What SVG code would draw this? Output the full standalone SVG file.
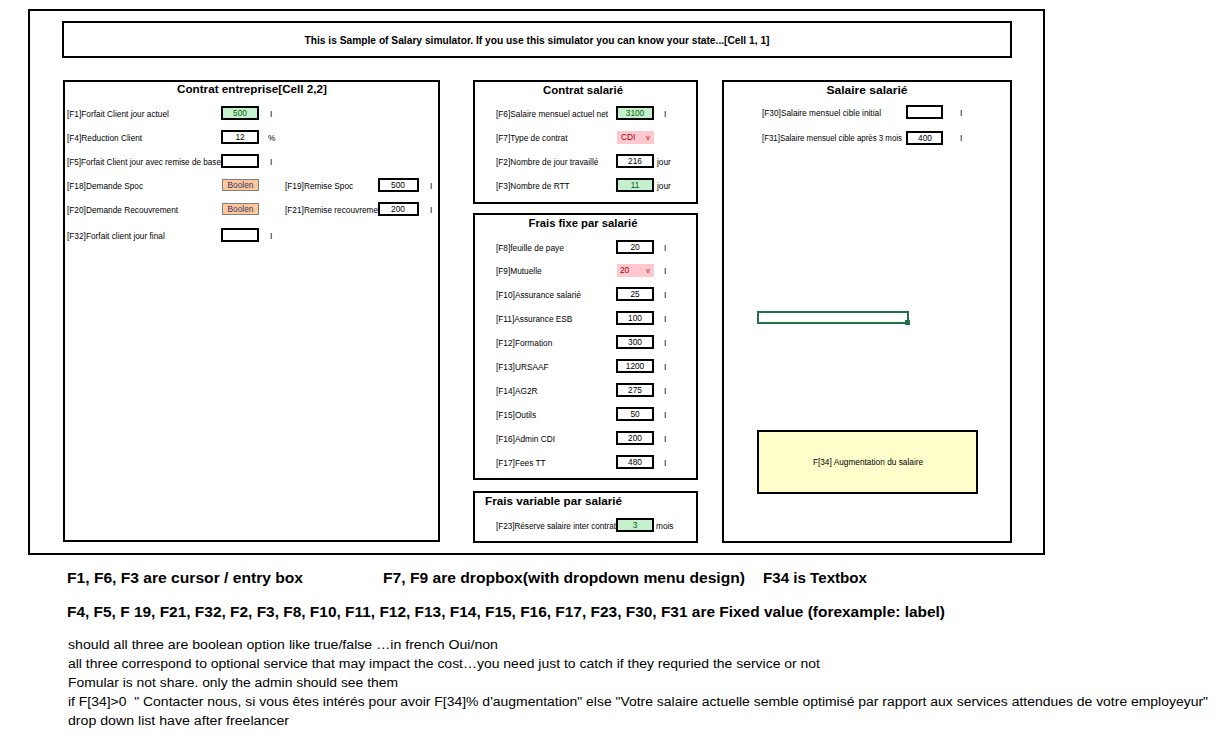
<svg xmlns="http://www.w3.org/2000/svg" width="1218" height="744" viewBox="0 0 1218 744">
<style>
  .frame{fill:#fff;stroke:#000;stroke-width:2}
  .ttl{font-family:"Liberation Sans",Arial,sans-serif;font-weight:bold;font-size:11px;fill:#000}
  .lbl{font-family:"Liberation Sans",Arial,sans-serif;font-size:8.3px;fill:#000}
  .val{font-family:"Liberation Sans",Arial,sans-serif;font-size:8.3px;fill:#000;text-anchor:middle}
  .gval{font-family:"Liberation Sans",Arial,sans-serif;font-size:8.3px;fill:#006100;text-anchor:middle}
  .box{fill:#fff;stroke:#000;stroke-width:2}
  .entry{fill:#c6efce;stroke:#000;stroke-width:2}
  .bool{fill:#fcc89b;stroke:#808080;stroke-width:1}
  .bval{font-family:"Liberation Sans",Arial,sans-serif;font-size:8.3px;fill:#333366;text-anchor:middle}
  .drop{fill:#ffc7ce}
  .dval{font-family:"Liberation Sans",Arial,sans-serif;font-size:8.3px;fill:#9c0006}
  .arr{font-family:"Liberation Sans",Arial,sans-serif;font-size:7px;font-weight:bold;fill:#c0504d}
  .bar{font-family:"Liberation Sans",Arial,sans-serif;font-size:8.3px;fill:#000}
  .note{font-family:"Liberation Sans",Arial,sans-serif;font-weight:bold;font-size:14px;fill:#000}
  .small{font-family:"Liberation Sans",Arial,sans-serif;font-size:12.5px;fill:#000}
</style>
<rect fill="#fff" x="0" y="0" width="1218" height="744"/>

<g id="outer-frame">
  <rect class="frame" x="29" y="10" width="1015" height="544"/>
</g>

<g id="title-bar">
  <rect class="frame" x="63" y="22" width="948" height="35"/>
  <text class="ttl" x="537" y="44" text-anchor="middle" font-size="10.5" textLength="465" lengthAdjust="spacingAndGlyphs">This is Sample of Salary simulator. If you use this simulator you can know your state...[Cell 1, 1]</text>
</g>

<g id="panel-contrat-entreprise">
  <rect class="frame" x="64" y="81" width="375" height="460"/>
  <text class="ttl" x="252" y="93" text-anchor="middle" textLength="150" lengthAdjust="spacingAndGlyphs">Contrat entreprise[Cell 2,2]</text>

  <text class="lbl" x="67" y="117">[F1]Forfait Client jour actuel</text>
  <rect class="entry" x="222" y="107" width="36" height="12"/>
  <text class="gval" x="240" y="116">500</text>
  <text class="bar" x="270" y="117">I</text>

  <text class="lbl" x="67" y="141">[F4]Reduction Client</text>
  <rect class="box" x="222" y="131" width="36" height="12"/>
  <text class="val" x="240" y="140">12</text>
  <text class="lbl" x="268" y="141">%</text>

  <text class="lbl" x="67" y="165" textLength="154" lengthAdjust="spacingAndGlyphs">[F5]Forfait Client jour avec remise de base</text>
  <rect class="box" x="222" y="155" width="36" height="12"/>
  <text class="bar" x="270" y="165">I</text>

  <text class="lbl" x="67" y="189">[F18]Demande Spoc</text>
  <rect class="bool" x="222.5" y="179.5" width="36" height="11"/>
  <text class="bval" x="240.5" y="188">Boolen</text>
  <text class="lbl" x="285" y="189">[F19]Remise Spoc</text>
  <rect class="box" x="379" y="179" width="39" height="12"/>
  <text class="val" x="398" y="188">500</text>
  <text class="bar" x="430" y="189">I</text>

  <text class="lbl" x="67" y="213">[F20]Demande Recouvrement</text>
  <rect class="bool" x="222.5" y="203.5" width="36" height="11"/>
  <text class="bval" x="240.5" y="212">Boolen</text>
  <text class="lbl" x="285" y="213">[F21]Remise recouvrement</text>
  <rect class="box" x="379" y="203" width="39" height="12"/>
  <text class="val" x="398" y="212">200</text>
  <text class="bar" x="430" y="213">I</text>

  <text class="lbl" x="67" y="239">[F32]Forfait client jour final</text>
  <rect class="box" x="222" y="229" width="36" height="12"/>
  <text class="bar" x="270" y="239">I</text>
</g>

<g id="panel-contrat-salarie">
  <rect class="frame" x="474" y="81" width="223" height="122"/>
  <text class="ttl" x="583" y="94" text-anchor="middle" textLength="80" lengthAdjust="spacingAndGlyphs">Contrat salarié</text>

  <text class="lbl" x="496" y="117">[F6]Salaire mensuel actuel net</text>
  <rect class="entry" x="617" y="107" width="36" height="12"/>
  <text class="gval" x="635" y="116">3100</text>
  <text class="bar" x="664" y="117">I</text>

  <text class="lbl" x="496" y="141">[F7]Type de contrat</text>
  <rect class="drop" x="617" y="131" width="37" height="13"/>
  <text class="dval" x="621" y="140">CDI</text>
  <text class="arr" x="646" y="140">v</text>

  <text class="lbl" x="496" y="165">[F2]Nombre de jour travaillé</text>
  <rect class="box" x="617" y="155" width="36" height="12"/>
  <text class="val" x="635" y="164">216</text>
  <text class="lbl" x="657" y="165">jour</text>

  <text class="lbl" x="496" y="189">[F3]Nombre de RTT</text>
  <rect class="entry" x="617" y="179" width="36" height="12"/>
  <text class="gval" x="635" y="188">11</text>
  <text class="lbl" x="657" y="189">jour</text>
</g>

<g id="panel-frais-fixe">
  <rect class="frame" x="474" y="214" width="223" height="265"/>
  <text class="ttl" x="583" y="227" text-anchor="middle" textLength="109" lengthAdjust="spacingAndGlyphs">Frais fixe par salarié</text>

  <text class="lbl" x="496" y="251">[F8]feuille de paye</text>
  <rect class="box" x="617" y="241" width="36" height="12"/>
  <text class="val" x="635" y="250">20</text>
  <text class="bar" x="664" y="251">I</text>

  <text class="lbl" x="496" y="274">[F9]Mutuelle</text>
  <rect class="drop" x="617" y="264" width="37" height="13"/>
  <text class="dval" x="620" y="273">20</text>
  <text class="arr" x="646" y="273">v</text>
  <text class="bar" x="664" y="274">I</text>

  <text class="lbl" x="496" y="298">[F10]Assurance salarié</text>
  <rect class="box" x="617" y="288" width="36" height="12"/>
  <text class="val" x="635" y="297">25</text>
  <text class="bar" x="664" y="298">I</text>

  <text class="lbl" x="496" y="322">[F11]Assurance ESB</text>
  <rect class="box" x="617" y="312" width="36" height="12"/>
  <text class="val" x="635" y="321">100</text>
  <text class="bar" x="664" y="322">I</text>

  <text class="lbl" x="496" y="346">[F12]Formation</text>
  <rect class="box" x="617" y="336" width="36" height="12"/>
  <text class="val" x="635" y="345">300</text>
  <text class="bar" x="664" y="346">I</text>

  <text class="lbl" x="496" y="370">[F13]URSAAF</text>
  <rect class="box" x="617" y="360" width="36" height="12"/>
  <text class="val" x="635" y="369">1200</text>
  <text class="bar" x="664" y="370">I</text>

  <text class="lbl" x="496" y="394">[F14]AG2R</text>
  <rect class="box" x="617" y="384" width="36" height="12"/>
  <text class="val" x="635" y="393">275</text>
  <text class="bar" x="664" y="394">I</text>

  <text class="lbl" x="496" y="418">[F15]Outils</text>
  <rect class="box" x="617" y="408" width="36" height="12"/>
  <text class="val" x="635" y="417">50</text>
  <text class="bar" x="664" y="418">I</text>

  <text class="lbl" x="496" y="442">[F16]Admin CDI</text>
  <rect class="box" x="617" y="432" width="36" height="12"/>
  <text class="val" x="635" y="441">200</text>
  <text class="bar" x="664" y="442">I</text>

  <text class="lbl" x="496" y="466">[F17]Fees TT</text>
  <rect class="box" x="617" y="456" width="36" height="12"/>
  <text class="val" x="635" y="465">480</text>
  <text class="bar" x="664" y="466">I</text>
</g>

<g id="panel-frais-variable">
  <rect class="frame" x="474" y="492" width="223" height="50"/>
  <text class="ttl" x="485" y="505" textLength="137" lengthAdjust="spacingAndGlyphs">Frais variable par salarié</text>
  <text class="lbl" x="496" y="529" textLength="120" lengthAdjust="spacingAndGlyphs">[F23]Réserve salaire inter contrat</text>
  <rect class="entry" x="617" y="519" width="36" height="12"/>
  <text class="gval" x="635" y="528">3</text>
  <text class="lbl" x="656" y="529">mois</text>
</g>

<g id="panel-salaire-salarie">
  <rect class="frame" x="723" y="81" width="288" height="461"/>
  <text class="ttl" x="867" y="94" text-anchor="middle" textLength="81" lengthAdjust="spacingAndGlyphs">Salaire salarié</text>

  <text class="lbl" x="762" y="116">[F30]Salaire mensuel cible initial</text>
  <rect class="box" x="907" y="106" width="35" height="12"/>
  <text class="bar" x="960" y="116">I</text>

  <text class="lbl" x="762" y="141" textLength="140" lengthAdjust="spacingAndGlyphs">[F31]Salaire mensuel cible après 3 mois</text>
  <rect class="box" x="907" y="132" width="35" height="12"/>
  <text class="val" x="925" y="141">400</text>
  <text class="bar" x="960" y="141">I</text>
</g>

<g id="selected-cell">
  <rect x="758" y="312" width="150" height="11" fill="none" stroke="#217346" stroke-width="2"/>
  <rect x="905" y="320" width="5" height="5" fill="#217346"/>
</g>

<g id="textbox-f34">
  <rect x="758" y="431" width="219" height="62" fill="#ffffcc" stroke="#000" stroke-width="2"/>
  <text class="val" x="868" y="465">F[34] Augmentation du salaire</text>
</g>

<g id="notes">
  <text class="note" x="67" y="583" textLength="236" lengthAdjust="spacingAndGlyphs">F1, F6, F3 are cursor / entry box</text>
  <text class="note" x="383" y="583" textLength="362" lengthAdjust="spacingAndGlyphs">F7, F9 are dropbox(with dropdown menu design)</text>
  <text class="note" x="763" y="583" textLength="104" lengthAdjust="spacingAndGlyphs">F34 is Textbox</text>
  <text class="note" x="67" y="617" textLength="878" lengthAdjust="spacingAndGlyphs">F4, F5, F 19, F21, F32, F2, F3, F8, F10, F11, F12, F13, F14, F15, F16, F17, F23, F30, F31 are Fixed value (forexample: label)</text>
  <text class="small" x="68" y="649" textLength="430" lengthAdjust="spacingAndGlyphs">should all three are boolean option like true/false …in french Oui/non</text>
  <text class="small" x="68" y="668" textLength="752" lengthAdjust="spacingAndGlyphs">all three correspond to optional service that may impact the cost…you need just to catch if they requried the service or not</text>
  <text class="small" x="68" y="687" textLength="330" lengthAdjust="spacingAndGlyphs">Fomular is not share. only the admin should see them</text>
  <text class="small" x="68" y="706" textLength="1140" lengthAdjust="spacingAndGlyphs" xml:space="preserve">if F[34]&gt;0  " Contacter nous, si vous êtes intérés pour avoir F[34]% d'augmentation" else "Votre salaire actuelle semble optimisé par rapport aux services attendues de votre employeyur"</text>
  <text class="small" x="68" y="725" textLength="221" lengthAdjust="spacingAndGlyphs">drop down list have after freelancer</text>
</g>
</svg>
